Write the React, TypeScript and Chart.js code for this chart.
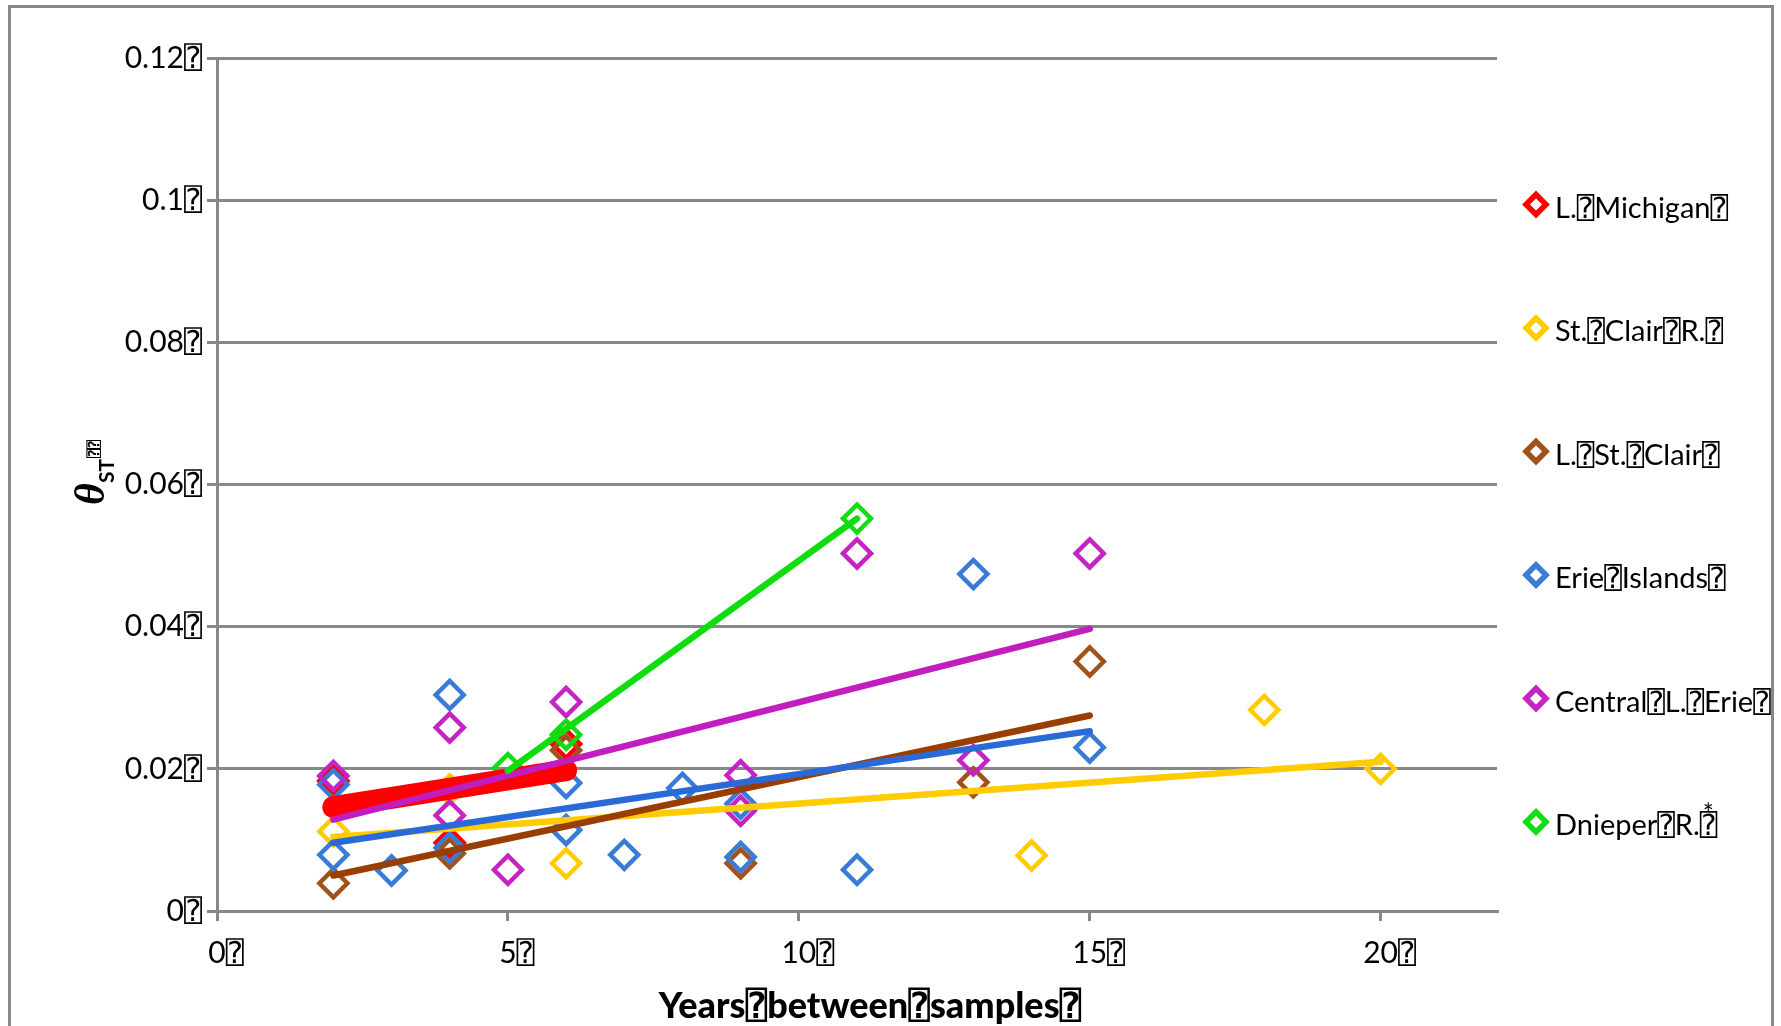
import { useEffect, useRef } from "react";
import { Chart, registerables } from "chart.js";

Chart.register(...registerables);

const FAMILY = "Lato, 'DejaVu Sans Mono', 'DejaVu Sans', sans-serif";

// ---- axis setup / tick labels ----
const xMin = 0;
const xMax = 22;
const xStep = 5;
const yMin = 0;
const yMax = 0.12;
const yStep = 0.02;
const tickSuffix = "⍰";
const xTitle = "Years⍰between⍰samples⍰";
const yTitleSymbol = "θ";
const yTitleSub = "ST";
const yTitleTail = "⍰⍰";

// ---- series ----
const seriesLabels = [
  "L.⍰Michigan⍰",
  "St.⍰Clair⍰R.⍰",
  "L.⍰St.⍰Clair⍰",
  "Erie⍰Islands⍰",
  "Central⍰L.⍰Erie⍰",
  "Dnieper⍰R.*⍰",
];

const michiganX = [2, 4, 6];
const michiganY = [0.0183, 0.0096, 0.0235];

const stClairRiverX = [2, 4, 6, 14, 18, 20];
const stClairRiverY = [0.0112, 0.0171, 0.0067, 0.0078, 0.0283, 0.02];

const lakeStClairX = [2, 4, 6, 9, 13, 15];
const lakeStClairY = [0.0039, 0.0081, 0.0226, 0.0067, 0.0181, 0.0351];

const erieIslandsX = [2, 2, 3, 4, 4, 6, 6, 7, 8, 9, 9, 11, 13, 15];
const erieIslandsY = [0.0178, 0.0079, 0.0057, 0.0304, 0.0089, 0.018, 0.0114, 0.0079, 0.0173, 0.0151, 0.0076, 0.0058, 0.0474, 0.023];

const centralErieX = [2, 4, 4, 5, 6, 9, 9, 11, 13, 15];
const centralErieY = [0.019, 0.0258, 0.01345, 0.0058, 0.0294, 0.0191, 0.0141, 0.0503, 0.0212, 0.0503];

const dnieperX = [5, 6, 11];
const dnieperY = [0.0201, 0.0248, 0.0552];

const seriesX = [michiganX, stClairRiverX, lakeStClairX, erieIslandsX, centralErieX, dnieperX];
const seriesY = [michiganY, stClairRiverY, lakeStClairY, erieIslandsY, centralErieY, dnieperY];

// ---- linear trend lines (end points) ----
const trendStartX = [2, 2, 2, 2, 2, 5];
const trendEndX = [6, 20, 15, 15, 15, 11];
const trendStartY = [0.0146, 0.0104, 0.005, 0.0096, 0.01285, 0.0197];
const trendEndY = [0.0198, 0.021, 0.0275, 0.0253, 0.0397, 0.0552];

// ---- styles ----
const markerColors = ["#FF0000", "#FFCC00", "#A0521B", "#3A7BD8", "#C424C2", "#12DD12"];
const lineColors = ["#FF0000", "#FFCC00", "#993D00", "#2A6AD6", "#C21DBE", "#10DD10"];
const trendWidths = [22, 6.5, 6.5, 6.5, 6.5, 6.5];
const GRID = "#888888";

function drawLabelText(ctx: CanvasRenderingContext2D, text: string, x: number, y: number) {
  const parts = text.split("*");
  let cx = x;
  parts.forEach((p, i) => {
    ctx.fillText(p, cx, y);
    cx += ctx.measureText(p).width;
    if (i < parts.length - 1) {
      const f = ctx.font;
      ctx.font = `26px ${FAMILY}`;
      ctx.fillText("*", cx + 3, y - 12);
      ctx.font = f;
    }
  });
}

const decorPlugin = {
  id: "decor",
  beforeDraw(chart: any) {
    const ctx = chart.ctx as CanvasRenderingContext2D;
    ctx.save();
    ctx.fillStyle = "#ffffff";
    ctx.fillRect(0, 0, chart.width, chart.height);
    ctx.strokeStyle = GRID;
    ctx.lineWidth = 3;
    ctx.strokeRect(9.5, 6.5, 1763, 1200);
    ctx.restore();
  },
  afterDraw(chart: any) {
    const ctx = chart.ctx as CanvasRenderingContext2D;
    // legend
    ctx.save();
    const top = 204.5;
    const step = 123.5;
    seriesLabels.forEach((label, i) => {
      const cy = top + i * step;
      const cx = 1536;
      const r = 10;
      ctx.beginPath();
      ctx.moveTo(cx - r, cy);
      ctx.lineTo(cx, cy - r);
      ctx.lineTo(cx + r, cy);
      ctx.lineTo(cx, cy + r);
      ctx.closePath();
      ctx.lineWidth = 5.5;
      ctx.lineJoin = "miter";
      ctx.strokeStyle = markerColors[i];
      ctx.stroke();
      ctx.fillStyle = "#000";
      ctx.font = `29px ${FAMILY}`;
      ctx.textBaseline = "alphabetic";
      ctx.textAlign = "left";
      drawLabelText(ctx, label, 1555, cy + 13);
    });
    ctx.restore();

    // x axis title
    ctx.save();
    ctx.fillStyle = "#000";
    ctx.font = `900 36px ${FAMILY}`;
    ctx.textAlign = "center";
    ctx.textBaseline = "alphabetic";
    ctx.fillText(xTitle, 870, 1018);
    ctx.restore();

    // y axis title
    ctx.save();
    ctx.translate(104, 505);
    ctx.rotate(-Math.PI / 2);
    ctx.fillStyle = "#000";
    ctx.textBaseline = "alphabetic";
    ctx.textAlign = "left";
    ctx.font = "italic bold 42px 'Liberation Serif', 'DejaVu Serif', serif";
    ctx.fillText(yTitleSymbol, 0, 0);
    ctx.font = `bold 21px ${FAMILY}`;
    ctx.fillText(yTitleSub, 22, 10);
    ctx.font = `bold 15px 'DejaVu Sans Mono', ${FAMILY}`;
    ctx.fillText(yTitleTail, 47, -5);
    ctx.restore();
  },
};

export default function App() {
  const ref = useRef<HTMLCanvasElement | null>(null);

  useEffect(() => {
    if (!ref.current) return;

    const scatterSets = seriesLabels.map((label, i) => ({
      type: "scatter" as const,
      label,
      data: seriesX[i].map((x, j) => ({ x, y: seriesY[i][j] })),
      showLine: false,
      pointStyle: "rectRot",
      pointRadius: 14,
      pointBorderWidth: 4.5,
      pointBorderColor: markerColors[i],
      pointBackgroundColor: "rgba(0,0,0,0)",
      borderColor: markerColors[i],
      backgroundColor: "rgba(0,0,0,0)",
      order: 12 - i,
    }));

    const trendSets = seriesLabels.map((label, i) => ({
      type: "scatter" as const,
      label: label + " trend",
      data: [
        { x: trendStartX[i], y: trendStartY[i] },
        { x: trendEndX[i], y: trendEndY[i] },
      ],
      showLine: true,
      fill: false,
      pointRadius: 0,
      borderColor: lineColors[i],
      borderWidth: trendWidths[i],
      borderCapStyle: "round",
      backgroundColor: lineColors[i],
      order: 6 - i,
    }));

    const chart = new Chart(ref.current, {
      type: "scatter",
      data: { datasets: [...scatterSets, ...trendSets] as any },
      options: {
        responsive: false,
        animation: false,
        devicePixelRatio: 1,
        events: [],
        layout: { padding: { left: 0, top: 58, right: 284, bottom: 0 } },
        plugins: {
          legend: { display: false },
          tooltip: { enabled: false },
        },
        scales: {
          x: {
            type: "linear",
            min: xMin,
            max: xMax,
            afterFit: (s: any) => {
              s.height = 115;
            },
            ticks: {
              stepSize: xStep,
              includeBounds: false,
              autoSkip: false,
              maxRotation: 0,
              padding: 14,
              labelOffset: 9,
              color: "#000",
              font: { family: FAMILY, size: 30 },
              callback: (v: any) => `${v}${tickSuffix}`,
            },
            grid: {
              drawOnChartArea: false,
              drawTicks: true,
              tickLength: 10,
              color: GRID,
              lineWidth: 3,
            },
            border: { display: true, color: GRID, width: 3 },
            title: { display: false },
          },
          y: {
            type: "linear",
            min: yMin,
            max: yMax,
            afterFit: (s: any) => {
              s.width = 217;
            },
            ticks: {
              stepSize: yStep,
              padding: 5,
              color: "#000",
              font: { family: FAMILY, size: 30 },
              callback: (v: any) => `${+Number(v).toFixed(2)}${tickSuffix}`,
            },
            grid: {
              drawOnChartArea: true,
              drawTicks: true,
              tickLength: 10,
              color: GRID,
              lineWidth: 3,
            },
            border: { display: true, color: GRID, width: 3 },
            title: { display: false },
          },
        },
      } as any,
      plugins: [decorPlugin],
    });

    return () => chart.destroy();
  }, []);

  return (
    <div
      style={{
        position: "fixed",
        left: 0,
        top: 0,
        width: 1781,
        height: 1026,
        background: "#fff",
        overflow: "hidden",
      }}
    >
      <canvas ref={ref} width={1781} height={1026} style={{ display: "block" }} />
    </div>
  );
}
